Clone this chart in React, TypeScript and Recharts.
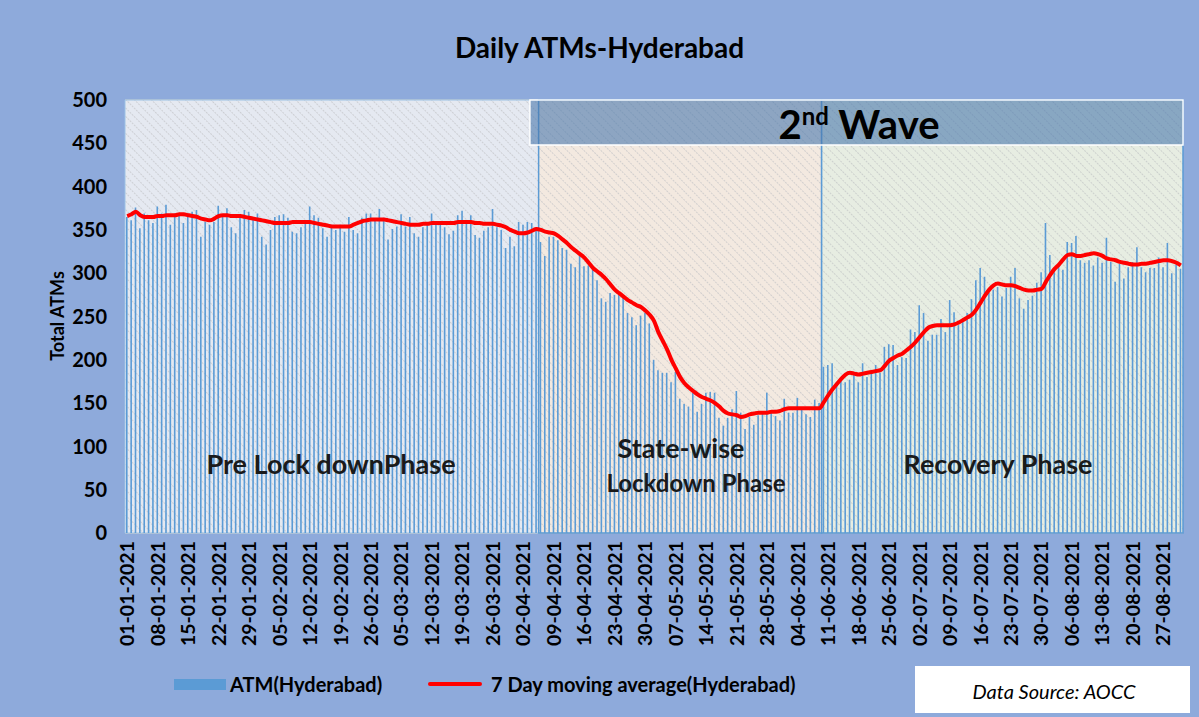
import React from "react";
import {
  ComposedChart,
  Bar,
  Line,
  XAxis,
  YAxis,
  CartesianGrid,
  ReferenceArea,
} from "recharts";

const FONT = "Lato, 'Open Sans', sans-serif";

const monthCodes = ["01", "02", "03", "04", "05", "06", "07", "08"];

// daily ATM counts
const atmJan = [365, 361, 376, 352, 369, 361, 358, 377, 369, 379, 356, 369, 367, 358, 369, 371, 373, 342, 359, 356, 359, 378, 367, 375, 353, 346, 364, 373, 371, 365, 369];
const atmFeb = [342, 333, 350, 365, 367, 368, 364, 348, 346, 353, 361, 377, 367, 364, 352, 342, 356, 350, 356, 348, 365, 350, 346, 364, 369, 369, 361, 374];
const atmMar = [364, 339, 351, 354, 368, 354, 365, 346, 342, 353, 359, 369, 359, 359, 353, 345, 349, 367, 372, 359, 367, 344, 341, 349, 353, 374, 353, 350, 329, 342, 331];
const atmApr = [359, 356, 359, 358, 353, 336, 320, 342, 342, 338, 329, 327, 311, 307, 320, 308, 309, 304, 292, 271, 267, 277, 275, 276, 273, 254, 249, 240, 251, 254];
const atmMay = [242, 200, 188, 185, 185, 174, 186, 155, 149, 146, 162, 140, 149, 162, 163, 162, 133, 124, 133, 143, 164, 139, 120, 134, 125, 136, 139, 162, 139, 135, 130];
const atmJun = [155, 139, 139, 156, 144, 137, 134, 154, 150, 192, 194, 196, 174, 179, 174, 177, 185, 174, 196, 180, 185, 194, 185, 215, 218, 217, 194, 203, 202, 235];
const atmJul = [232, 263, 254, 222, 229, 229, 247, 232, 269, 255, 240, 244, 254, 270, 292, 306, 296, 277, 281, 284, 273, 283, 296, 306, 271, 259, 269, 274, 289, 301, 358];
const atmAug = [321, 301, 309, 304, 336, 335, 343, 315, 312, 315, 309, 318, 312, 341, 313, 290, 311, 294, 307, 313, 330, 307, 301, 306, 306, 318, 307, 335, 300, 310, 305];

// 7 day moving average
const avgJan = [366, 368, 371, 367, 365, 365, 365, 366, 366, 367, 367, 367, 368, 368, 367, 366, 365, 363, 362, 361, 363, 366, 367, 367, 366, 366, 366, 365, 364, 363, 362];
const avgFeb = [361, 360, 359, 358, 358, 358, 358, 359, 359, 359, 359, 359, 358, 357, 356, 355, 354, 354, 354, 354, 354, 356, 358, 360, 361, 362, 362, 362];
const avgMar = [362, 361, 360, 359, 358, 357, 356, 356, 356, 357, 357, 358, 358, 358, 358, 358, 358, 359, 359, 359, 359, 358, 358, 357, 357, 357, 356, 355, 353, 350, 348];
const avgApr = [346, 346, 347, 349, 351, 350, 348, 347, 346, 343, 339, 335, 330, 326, 322, 318, 312, 306, 302, 298, 293, 287, 281, 277, 273, 269, 266, 263, 261, 257];
const avgMay = [252, 245, 232, 222, 212, 200, 190, 180, 173, 168, 164, 160, 157, 155, 153, 150, 146, 141, 138, 137, 136, 134, 135, 137, 138, 139, 139, 139, 140, 140, 141];
const avgJun = [143, 144, 144, 144, 144, 144, 144, 144, 144, 151, 159, 166, 172, 178, 183, 185, 184, 183, 184, 185, 186, 187, 188, 193, 199, 202, 205, 207, 211, 215];
const avgJul = [220, 226, 232, 237, 239, 240, 240, 240, 240, 241, 243, 246, 249, 252, 258, 266, 274, 281, 286, 288, 287, 286, 286, 285, 283, 281, 280, 280, 281, 282, 290];
const avgAug = [298, 305, 310, 316, 321, 322, 320, 320, 321, 322, 323, 322, 320, 317, 316, 315, 313, 312, 311, 310, 310, 311, 311, 312, 313, 314, 315, 315, 314, 312, 309];

const atmByMonth = [atmJan, atmFeb, atmMar, atmApr, atmMay, atmJun, atmJul, atmAug];
const avgByMonth = [avgJan, avgFeb, avgMar, avgApr, avgMay, avgJun, avgJul, avgAug];

const yTicks = [0, 50, 100, 150, 200, 250, 300, 350, 400, 450, 500];

const data: { date: string; atm: number; avg: number }[] = [];
atmByMonth.forEach((days, m) => {
  days.forEach((v, d) => {
    const dd = String(d + 1).padStart(2, "0");
    data.push({ date: `${dd}-${monthCodes[m]}-2021`, atm: v, avg: avgByMonth[m][d] });
  });
});

const XTick = (props: any) => {
  const { x, y, payload } = props;
  return (
    <text
      transform={`translate(${x + 7},${y}) rotate(-90)`}
      textAnchor="end"
      fontFamily={FONT}
      fontWeight="bold"
      fontSize={19.5}
      fill="#000"
    >
      {payload.value}
    </text>
  );
};

const hatch = (id: string, base: string) => (
  <pattern id={id} width="6" height="6" patternUnits="userSpaceOnUse" patternTransform="rotate(-45)">
    <rect width="6" height="6" fill={base} />
    <line x1="0" y1="0" x2="0" y2="6" stroke="#bdbfc2" strokeWidth="1.2" strokeDasharray="2 1" />
  </pattern>
);

const abs = (style: React.CSSProperties): React.CSSProperties => ({
  position: "absolute",
  fontFamily: FONT,
  color: "#000",
  whiteSpace: "nowrap",
  ...style,
});

export default function App() {
  return (
    <div style={{ position: "absolute", left: 0, top: 0, width: 1199, height: 717, background: "#8eaadb", overflow: "hidden" }}>
      <ComposedChart width={1199} height={717} data={data} margin={{ top: 100, right: 16, bottom: 54, left: 0 }}>
        <defs>
          {hatch("hatchPre", "#e5e9f1")}
          {hatch("hatchLock", "#f3e9e0")}
          {hatch("hatchRec", "#e7ede2")}
        </defs>
        <ReferenceArea x1="01-01-2021" x2="05-04-2021" y1={0} y2={500} fill="url(#hatchPre)" fillOpacity={1} stroke="#9dc3e6" strokeWidth={1} />
        <ReferenceArea x1="06-04-2021" x2="09-06-2021" y1={0} y2={500} fill="url(#hatchLock)" fillOpacity={1} stroke="#5b9bd5" strokeWidth={1.5} />
        <ReferenceArea x1="10-06-2021" x2="31-08-2021" y1={0} y2={500} fill="url(#hatchRec)" fillOpacity={1} stroke="#5b9bd5" strokeWidth={1.5} />
        <CartesianGrid vertical={false} stroke="#c6c6c6" strokeWidth={1.5} />
        <XAxis
          dataKey="date"
          interval={6}
          height={130}
          tickLine={false}
          axisLine={false}
          tickSize={0}
          tickMargin={8}
          tick={<XTick />}
        />
        <YAxis
          domain={[0, 500]}
          ticks={yTicks}
          width={125}
          tickLine={false}
          axisLine={false}
          tickSize={0}
          tickMargin={18}
          tick={{ fill: "#000", fontSize: 20, fontWeight: "bold", fontFamily: FONT }}
        />
        <Bar dataKey="atm" fill="#5b9bd5" barSize={1.6} isAnimationActive={false} />
        <Line dataKey="avg" type="monotone" stroke="#ff0000" strokeWidth={4} dot={false} isAnimationActive={false} />
        <ReferenceArea x1="04-04-2021" x2="31-08-2021" y1={448} y2={500} fill="#4a78ad" fillOpacity={0.6} stroke="#ffffff" strokeWidth={1.5} />
      </ComposedChart>

      <div style={abs({ left: 0, width: 1199, top: 47, textAlign: "center", fontSize: 28, fontWeight: "bold", transform: "translateY(-50%)" })}>
        Daily ATMs-Hyderabad
      </div>
      <div style={abs({ left: 57, top: 316, fontSize: 18, fontWeight: "bold", transform: "translate(-50%, -50%) rotate(-90deg)" })}>
        Total ATMs
      </div>

      <div style={abs({ left: 859, top: 124, fontSize: 40, fontWeight: "bold", transform: "translate(-50%, -50%)" })}>
        2<sup style={{ fontSize: 24 }}>nd</sup> Wave
      </div>
      <div style={abs({ left: 331, top: 463, fontSize: 27, fontWeight: "bold", color: "#1a1a1a", transform: "translate(-50%, -50%)" })}>
        Pre Lock downPhase
      </div>
      <div style={abs({ left: 681, top: 447, fontSize: 27, fontWeight: "bold", color: "#1a1a1a", transform: "translate(-50%, -50%)" })}>
        State-wise
      </div>
      <div style={abs({ left: 696, top: 482, fontSize: 24, fontWeight: "bold", color: "#1a1a1a", transform: "translate(-50%, -50%)" })}>
        Lockdown Phase
      </div>
      <div style={abs({ left: 998, top: 463, fontSize: 27, fontWeight: "bold", color: "#1a1a1a", transform: "translate(-50%, -50%)" })}>
        Recovery Phase
      </div>

      <div style={{ position: "absolute", left: 174, top: 679, width: 52, height: 11, background: "#5b9bd5" }} />
      <div style={abs({ left: 230, top: 684, fontSize: 20, fontWeight: "bold", transform: "translateY(-50%)" })}>
        ATM(Hyderabad)
      </div>
      <div style={{ position: "absolute", left: 428, top: 682, width: 54, height: 4, background: "#ff0000", borderRadius: 2 }} />
      <div style={abs({ left: 491, top: 684, fontSize: 20, fontWeight: "bold", transform: "translateY(-50%)" })}>
        7 Day moving average(Hyderabad)
      </div>

      <div style={{ position: "absolute", left: 915, top: 666, width: 275, height: 47, background: "#ffffff" }} />
      <div style={abs({ left: 1054, top: 691, fontSize: 20, fontStyle: "italic", transform: "translate(-50%, -50%)" })}>
        Data Source: AOCC
      </div>
    </div>
  );
}
